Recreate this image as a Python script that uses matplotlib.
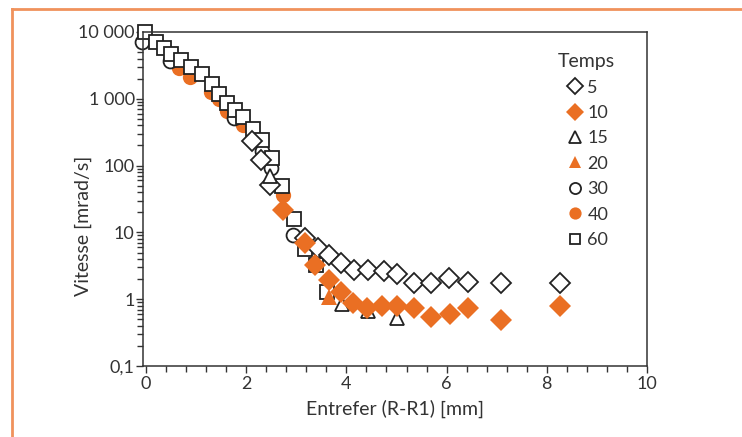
import matplotlib
matplotlib.use("Agg")
import matplotlib.pyplot as plt
from matplotlib.lines import Line2D
from matplotlib.ticker import LogLocator, NullFormatter, MultipleLocator

plt.rcParams['font.family'] = ['Lato', 'DejaVu Sans']

ORANGE = '#EA6F23'
INK = '#333333'

# Temps 5 (losange vide)
x5 = [2.12, 2.30, 2.48, 3.18, 3.43, 3.65, 3.90, 4.15, 4.43, 4.75, 5.01, 5.34, 5.69, 6.05, 6.43, 7.08, 8.27]
y5 = [234, 123, 52, 8.2, 5.9, 4.6, 3.5, 2.7, 2.75, 2.65, 2.4, 1.75, 1.75, 2.07, 1.78, 1.75, 1.75]
# Temps 10 (losange plein)
x10 = [2.73, 3.17, 3.38, 3.66, 3.90, 4.13, 4.42, 4.71, 5.01, 5.35, 5.69, 6.07, 6.43, 7.08, 8.27]
y10 = [22, 7.0, 3.3, 1.95, 1.28, 0.87, 0.75, 0.78, 0.80, 0.75, 0.55, 0.60, 0.75, 0.49, 0.78]
# Temps 15 (triangle vide)
x15 = [2.48, 3.91, 4.43, 5.00]
y15 = [70, 0.84, 0.66, 0.52]
# Temps 20 (triangle plein)
x20 = [3.65]
y20 = [1.07]
# Temps 30 (cercle vide)
x30 = [-0.07, 0.47, 1.76, 2.31, 2.50, 2.93]
y30 = [7000, 3700, 520, 165, 91, 9]
# Temps 40 (cercle plein)
x40 = [0.66, 0.88, 1.30, 1.45, 1.62, 1.93, 2.74]
y40 = [2900, 2150, 1250, 1000, 650, 400, 36]
# Temps 60 (carre vide)
x60 = [-0.02, 0.19, 0.35, 0.50, 0.70, 0.90, 1.12, 1.32, 1.46, 1.62, 1.78, 1.94,
       2.13, 2.32, 2.52, 2.71, 2.95, 3.18, 3.39, 3.61]
y60 = [10000, 7200, 5700, 4700, 3750, 2950, 2350, 1640, 1200, 870, 690, 525,
       350, 240, 131, 49, 16, 5.6, 3.2, 1.28]

yticks = [0.1, 1, 10, 100, 1000, 10000]
ytick_labels = ['0,1', '1', '10', '100', '1 000', '10 000']

fig = plt.figure(figsize=(7.42, 4.37), dpi=100)
ax = fig.add_axes([143 / 742, 1 - 366 / 437, (647 - 143) / 742, (366 - 32) / 437])

open_kw = dict(mfc='white', mec='#222222', mew=1.3)
full_kw = dict(mfc=ORANGE, mec=ORANGE, mew=0)

series = [
    ('5', x5, y5, 'D', 10, open_kw, 2.6),
    ('10', x10, y10, 'D', 11.5, full_kw, 3.0),
    ('15', x15, y15, '^', 10, open_kw, 2.7),
    ('20', x20, y20, '^', 11, full_kw, 2.9),
    ('30', x30, y30, 'o', 10, open_kw, 2.1),
    ('40', x40, y40, 'o', 11, full_kw, 2.0),
    ('60', x60, y60, 's', 9.5, open_kw, 2.5),
]
for lab, xs, ys, mk, ms, kw, z in series:
    ax.plot(xs, ys, ls='none', marker=mk, ms=ms, label=lab, zorder=z, clip_on=False, **kw)

ax.set_yscale('log')
ax.set_xlim(-0.06, 10)
ax.set_ylim(0.1, 10000)
ax.set_xticks([0, 2, 4, 6, 8, 10])
ax.xaxis.set_minor_locator(MultipleLocator(0.4))
ax.set_yticks(yticks, labels=ytick_labels)
ax.yaxis.set_minor_locator(LogLocator(base=10, subs=range(2, 10)))
ax.yaxis.set_minor_formatter(NullFormatter())

ax.tick_params(which='both', direction='out', color=INK, labelcolor=INK, width=1)
ax.tick_params(which='major', length=5, labelsize=13)
ax.tick_params(which='minor', length=4)
ax.tick_params(axis='x', pad=2)
ax.tick_params(axis='y', pad=1)
for sp in ax.spines.values():
    sp.set_color(INK)
    sp.set_linewidth(1.1)

ax.set_xlabel('Entrefer (R-R1) [mm]', fontsize=14, color=INK, labelpad=6)
ax.set_ylabel('Vitesse [mrad/s]', fontsize=14, color=INK)
ax.yaxis.set_label_coords(-0.101, 0.42)

leg = ax.legend(title='Temps', loc='upper right', bbox_to_anchor=(0.95, 0.958),
                frameon=False, fontsize=13, title_fontsize=14, handletextpad=0.1,
                labelspacing=0.52, borderaxespad=0, handlelength=1.2,
                markerscale=0.8)
for t in leg.get_texts():
    t.set_color(INK)
leg.get_title().set_color(INK)

# cadre orange autour de la figure
fig.add_artist(Line2D([12.5 / 742, 1], [1 - 8.5 / 437, 1 - 8.5 / 437],
                      color='#F0925C', lw=2, transform=fig.transFigure))
fig.add_artist(Line2D([12.5 / 742, 12.5 / 742], [0, 1 - 8.5 / 437],
                      color='#F0925C', lw=2, transform=fig.transFigure))

fig.savefig('out.png', dpi=100)
